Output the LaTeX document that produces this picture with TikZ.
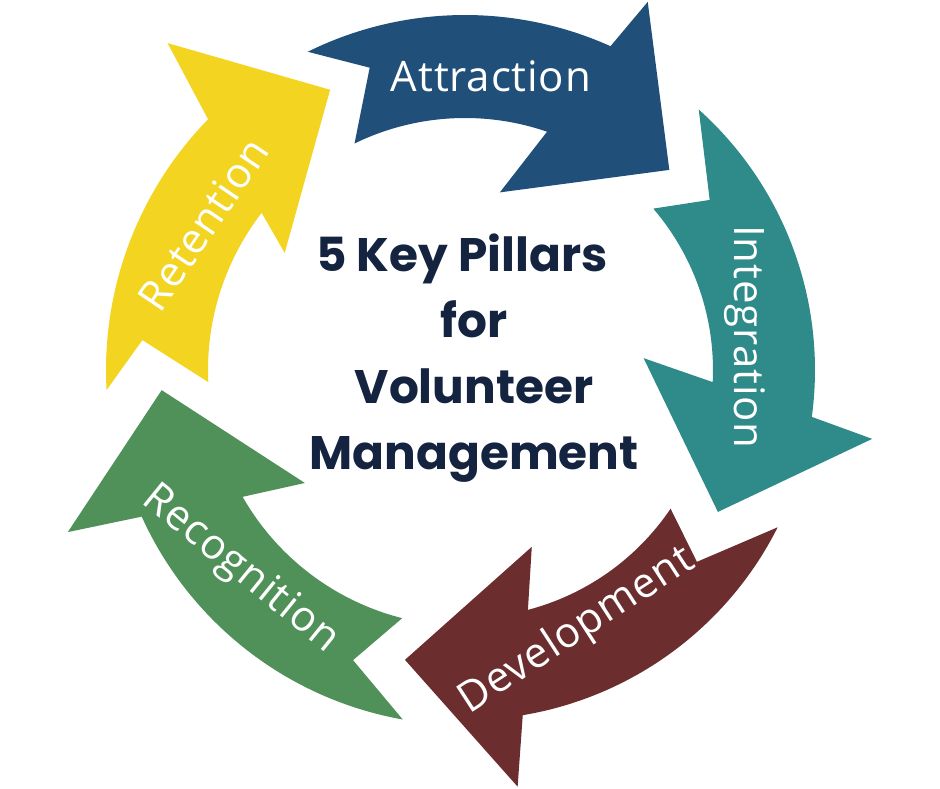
\documentclass[tikz,border=0pt]{standalone}
\usepackage{fontspec}
\setmainfont{Open Sans}[LetterSpace=2]
\newfontfamily\titlefont{Poppins}

\definecolor{attrblue}{HTML}{204F79}
\definecolor{integteal}{HTML}{2E8B8A}
\definecolor{devmaroon}{HTML}{6C2D2F}
\definecolor{recgreen}{HTML}{50915A}
\definecolor{retyellow}{HTML}{F3D420}
\definecolor{titlenavy}{HTML}{142440}

\begin{document}
\begin{tikzpicture}[x=1pt, y=1pt,
    pillar label/.style={text=white, inner sep=0pt, font=\fontsize{42}{44}\selectfont},
    centre title/.style={text=titlenavy, align=center, inner sep=0pt,
        font=\titlefont\bfseries\fontsize{47}{66}\selectfont}]
    \useasboundingbox (-465,-418) rectangle (475,370);

    % five curved arrows round the centre, clockwise
    \fill[attrblue] (116.3:355) arc[start angle=116.3, end angle=65.8, radius=355]
        -- (63.6:411) -- (44.4:286) -- (78.9:181) -- (71.0:252)
        arc[start angle=71.0, end angle=116.0, radius=252] -- (107.5:317) -- cycle;
    \fill[integteal] (48.1:350) arc[start angle=48.1, end angle=-7.7, radius=350]
        -- (-9.6:413) -- (-29.3:290) -- (3.8:179) -- (-2.8:248)
        arc[start angle=-2.8, end angle=40.6, radius=248] -- (34.8:298) -- cycle;
    \fill[devmaroon] (-26.7:350) arc[start angle=-26.7, end angle=-80.5, radius=350]
        -- (-82.8:420) -- (-101.7:296) -- (-69.3:189) -- (-75.3:248)
        arc[start angle=-75.3, end angle=-34.0, radius=248] -- (-39.6:301) -- cycle;
    \fill[recgreen] (-100.1:355) arc[start angle=-100.1, end angle=-155.6, radius=355]
        -- (-157.8:429) -- (-176.2:304) -- (-144.8:196) -- (-150.3:256)
        arc[start angle=-150.3, end angle=-104.2, radius=256] -- (-111.1:311) -- cycle;
    \fill[retyellow] (183.2:359) arc[start angle=183.2, end angle=135.7, radius=359]
        -- (132.3:442) -- (115.7:311) -- (147.0:215) -- (142.3:257)
        arc[start angle=142.3, end angle=182.7, radius=257] -- (174.7:324) -- cycle;

    \node[pillar label] (attraction) at (26,294) {Attraction};
    \node[pillar label, rotate=-90] (integration) at (280,33) {Integration};
    \node[pillar label, rotate=33] (development) at (112,-261) {Development};
    \node[pillar label, rotate=-39] (recognition) at (-225,-200) {Recognition};
    \node[pillar label, rotate=56] (retention) at (-262,146) {Retention};

    \node[centre title] (title) at (9,12)
        {5 Key Pillars\hspace*{24pt}\\for\hspace*{24pt}\\Volunteer\\Management};
\end{tikzpicture}
\end{document}
